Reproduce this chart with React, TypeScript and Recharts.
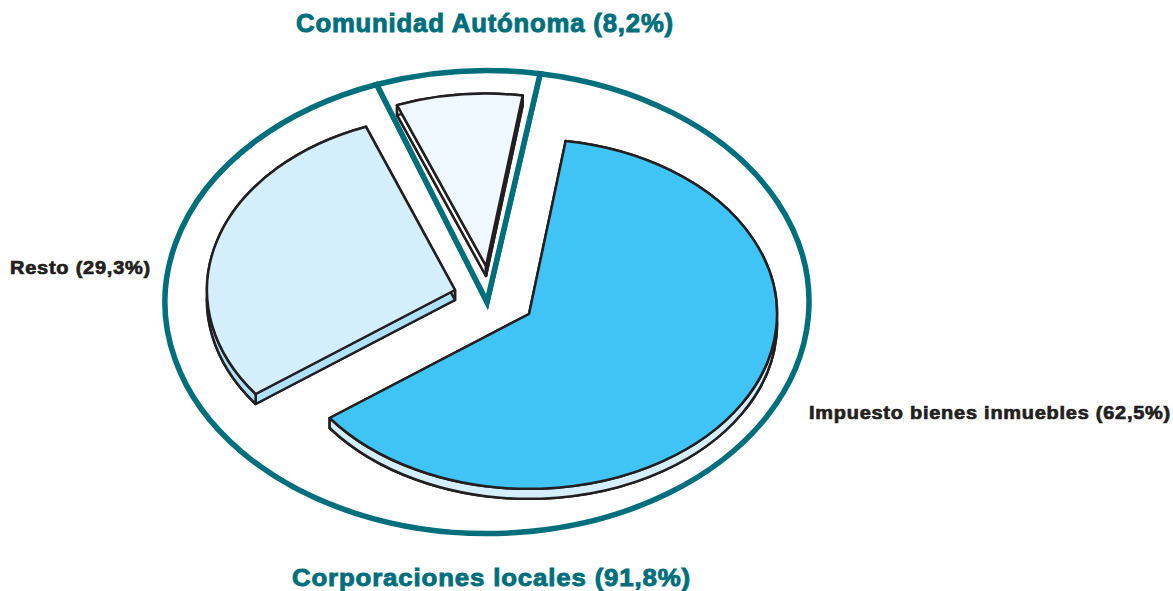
import React from 'react'
import { PieChart, Pie } from 'recharts'

const GROUP_NAMES = ['Corporaciones locales', 'Comunidad Autónoma']
const GROUP_VALUES = [91.8, 8.2]

const SLICE_NAMES = ['Impuesto bienes inmuebles', 'Resto', 'Comunidad Autónoma']
const SLICE_VALUES = [62.5, 29.3, 8.2]

const groups = GROUP_NAMES.map((name, i) => ({ name, value: GROUP_VALUES[i] }))
const slices = SLICE_NAMES.map((name, i) => ({ name, value: SLICE_VALUES[i] }))

const TEAL = '#006f7c'
const INK = '#231f20'
const TOP_COLORS = ['#40c4f5', '#d5eefb', '#eff8fe']
const SIDE_COLORS = ['#d5eefb', '#aee0fa', '#ffffff']
// how far each slice is pulled out of the pie centre
const OFFSETS = [[42, 12], [-32, -12], [-1, -36]]
const TILTS = [0.705, 0.705, 0.695]
const DEPTH = 10
const CX = 487
const CY = 302

const rad = (a: number) => (a * Math.PI) / 180

// elliptical sector, Recharts hands over the angles of a round one
function sectorPath(cx: number, cy: number, rx: number, ry: number, start: number, end: number) {
  const x0 = cx + rx * Math.cos(rad(start))
  const y0 = cy - ry * Math.sin(rad(start))
  const x1 = cx + rx * Math.cos(rad(end))
  const y1 = cy - ry * Math.sin(rad(end))
  const large = Math.abs(start - end) > 180 ? 1 : 0
  return `M${cx},${cy} L${x0},${y0} A${rx},${ry} 0 ${large} 1 ${x1},${y1} Z`
}

function RingSlice(props: any) {
  const { cx, cy, outerRadius, startAngle, endAngle } = props
  return (
    <path
      d={sectorPath(cx, cy, outerRadius, outerRadius * 0.719, startAngle, endAngle)}
      fill="#fff"
      stroke={TEAL}
      strokeWidth={5.5}
      strokeLinejoin="miter"
    />
  )
}

function TiltedSlice(props: any) {
  const { cx, cy, outerRadius, startAngle, endAngle, index } = props
  const [dx, dy] = OFFSETS[index]
  const rx = outerRadius
  const ry = outerRadius * TILTS[index]
  const x = cx + dx
  const y = cy + dy
  const side = { fill: SIDE_COLORS[index], stroke: INK, strokeWidth: 2.5, strokeLinejoin: 'round' as const }
  const x0 = x + rx * Math.cos(rad(startAngle))
  const y0 = y - ry * Math.sin(rad(startAngle))
  const x1 = x + rx * Math.cos(rad(endAngle))
  const y1 = y - ry * Math.sin(rad(endAngle))
  const large = Math.abs(startAngle - endAngle) > 180 ? 1 : 0
  return (
    <g>
      <path d={sectorPath(x, y + DEPTH, rx, ry, startAngle, endAngle)} {...side} />
      <path d={`M${x},${y} L${x0},${y0} L${x0},${y0 + DEPTH} L${x},${y + DEPTH} Z`} {...side} />
      <path d={`M${x},${y} L${x1},${y1} L${x1},${y1 + DEPTH} L${x},${y + DEPTH} Z`} {...side} />
      <path
        d={`M${x0},${y0} A${rx},${ry} 0 ${large} 1 ${x1},${y1} L${x1},${y1 + DEPTH} A${rx},${ry} 0 ${large} 0 ${x0},${y0 + DEPTH} Z`}
        {...side}
      />
      <path
        d={sectorPath(x, y, rx, ry, startAngle, endAngle)}
        fill={TOP_COLORS[index]}
        stroke={INK}
        strokeWidth={2.5}
        strokeLinejoin="round"
      />
    </g>
  )
}

const labelFont = { fontFamily: '"Liberation Sans", sans-serif', fontWeight: 700, lengthAdjust: 'spacingAndGlyphs' as const }

export default function App() {
  return (
    <div style={{ position: 'absolute', left: 0, top: 0, width: 1173, height: 591 }}>
      <PieChart width={1173} height={591} margin={{ top: 0, right: 0, bottom: 0, left: 0 }}>
        <Pie
          data={groups}
          dataKey="value"
          nameKey="name"
          cx={CX}
          cy={CY}
          innerRadius={0}
          outerRadius={322}
          startAngle={80.5}
          endAngle={-279.5}
          shape={RingSlice}
          isAnimationActive={false}
        />
        <Pie
          data={slices}
          dataKey="value"
          nameKey="name"
          cx={CX}
          cy={CY}
          innerRadius={0}
          outerRadius={248}
          startAngle={81.5}
          endAngle={-278.5}
          shape={TiltedSlice}
          isAnimationActive={false}
        />
        <text x={296} y={32} fontSize={25} letterSpacing={0.8} fill={TEAL} stroke={TEAL} strokeWidth={0.9} textLength={378} {...labelFont}>
          Comunidad Autónoma (8,2%)
        </text>
        <text x={292} y={586} fontSize={24} letterSpacing={0.8} fill={TEAL} stroke={TEAL} strokeWidth={0.9} textLength={399} {...labelFont}>
          Corporaciones locales (91,8%)
        </text>
        <text x={10} y={274} fontSize={18} letterSpacing={0.7} fill={INK} stroke={INK} strokeWidth={0.7} textLength={141} {...labelFont}>
          Resto (29,3%)
        </text>
        <text x={809} y={419} fontSize={18} letterSpacing={0.7} fill={INK} stroke={INK} strokeWidth={0.7} textLength={362} {...labelFont}>
          Impuesto bienes inmuebles (62,5%)
        </text>
      </PieChart>
    </div>
  )
}
